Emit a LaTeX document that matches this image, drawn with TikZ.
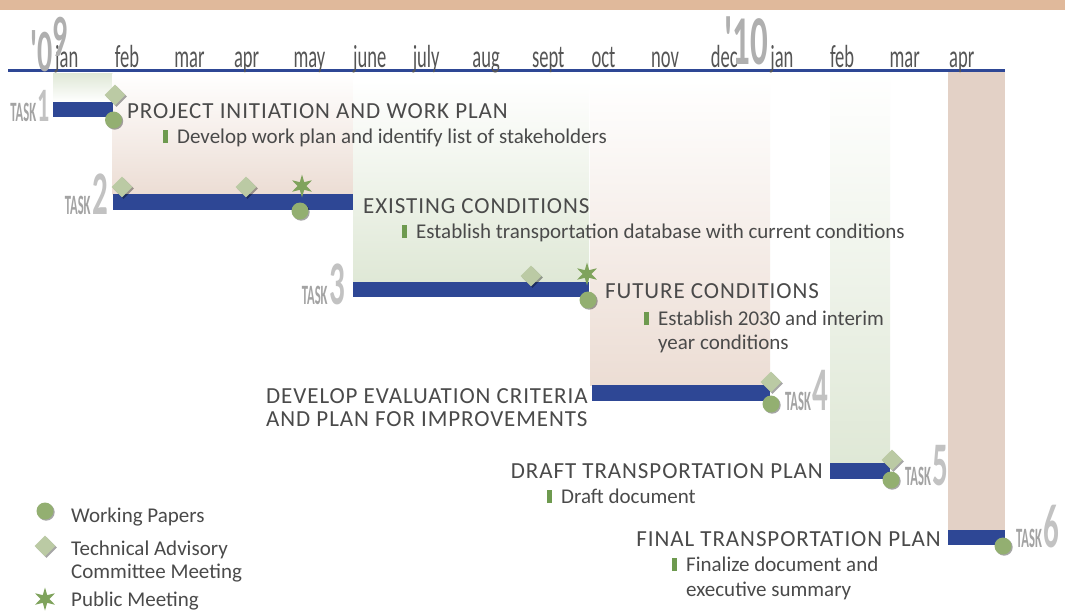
\documentclass[tikz,border=0pt]{standalone}
\usepackage{fontspec}
\setmainfont{Carlito}
\newfontfamily\monthfont[FakeStretch=0.58]{Carlito}
\newfontfamily\narrowfont[FakeStretch=0.5]{Carlito}
\newfontfamily\taskfont[FakeStretch=0.45]{Carlito}
\newfontfamily\headfont[LetterSpace=4]{Carlito}
\usetikzlibrary{shapes.geometric}
\usetikzlibrary{shadows}

\definecolor{topband}{HTML}{E0B99B}
\definecolor{navy}{HTML}{2E4795}
\definecolor{ink}{HTML}{4A4A4A}
\definecolor{monthink}{HTML}{555555}
\definecolor{taskgray}{HTML}{A3A3A3}
\definecolor{digitgray}{HTML}{C2C2C2}
\definecolor{sage}{HTML}{BBCAA4}
\definecolor{leaf}{HTML}{93AF71}
\definecolor{starleaf}{HTML}{7FA35C}
\definecolor{bulletleaf}{HTML}{6E9A4F}
\definecolor{pinkband}{HTML}{ECDDD4}
\definecolor{tanband}{HTML}{E3D1C6}
\definecolor{greenband}{HTML}{DFE8D6}

% bullet hangs left of the text start
\newcommand\bul{\llap{{\color{bulletleaf}\rule{5pt}{13pt}}\hspace{9pt}}}
% TASK n label, digit size optional
\newcommand\tasklbl[2][62]{{\taskfont\bfseries\fontsize{28}{28}\selectfont\color{taskgray}TASK}\hspace{1.5pt}{\narrowfont\bfseries\fontsize{#1}{#1}\selectfont\color{digitgray}#2}}

\begin{document}
\begin{tikzpicture}[x=1pt, y=-1pt,
    head/.style={inner sep=0pt, anchor=base west, text=ink, font=\headfont\fontsize{23}{23}\selectfont},
    body/.style={inner sep=0pt, anchor=base west, text=ink, font=\fontsize{21}{21}\selectfont},
    month/.style={inner sep=0pt, anchor=base west, text=monthink, font=\monthfont\fontsize{32}{32}\selectfont},
    year/.style={inner sep=0pt, anchor=base west, text=digitgray!90!black, font=\narrowfont\bfseries},
    task/.style={inner sep=0pt},
    bar/.style={fill=navy},
    tac/.style={diamond, fill=sage, inner sep=0pt, minimum size=21pt,
        drop shadow={shadow xshift=1.5pt, shadow yshift=-1.5pt, fill=black, opacity=0.35}},
    wp/.style={circle, fill=leaf, inner sep=0pt, minimum size=17pt,
        drop shadow={shadow xshift=1.2pt, shadow yshift=-1.2pt, fill=black, opacity=0.35}},
    pm/.style={star, star points=6, star point ratio=2.6, fill=starleaf, inner sep=0pt, minimum size=23pt}]
    \path[use as bounding box, fill=white] (0,0) rectangle (1065,611);
    \fill[topband] (0,0) rectangle (1065,10);
    % month bands
    \shade[top color=greenband, bottom color=white] (53,73) rectangle (112.6,102);
    \shade[top color=white, bottom color=pinkband] (112.6,73) rectangle (353,194);
    \shade[top color=white, bottom color=greenband] (353,80) rectangle (589,282);
    \shade[top color=white, bottom color=pinkband] (590,80) rectangle (770,385);
    \shade[top color=white, bottom color=greenband] (830,73) rectangle (890,463);
    \fill[tanband] (948,72) rectangle (1005,530);
    % timeline
    \draw[navy, line width=3.5pt] (8,70.5) -- (1005,70.5);
    \foreach \m [count=\i from 0] in {jan,feb,mar,apr,may,june,july,aug,sept,oct,nov,dec,jan,feb,mar,apr}
        \node[month] (m\i) at ({55+59.6*\i},67) {\m};
    \node[year, font=\narrowfont\bfseries\fontsize{60}{60}\selectfont] (y09) at (30,71) {'0\raisebox{15pt}{9}};
    \node[year, font=\narrowfont\bfseries\fontsize{70}{70}\selectfont] (y10) at (724,64) {'10};
    % bars
    \fill[bar] (53,102) rectangle (112.6,117);
    \fill[bar] (112.6,194) rectangle (353,210);
    \fill[bar] (353,282) rectangle (589,297);
    \fill[bar] (592,385) rectangle (770,401);
    \fill[bar] (830,463) rectangle (890,479);
    \fill[bar] (948,530) rectangle (1005,545);
    % markers
    \node[tac] (d1) at (115,95) {};
    \node[wp] (c1) at (113.5,120) {};
    \node[tac] (d2a) at (122,187) {};
    \node[tac] (d2b) at (246,187) {};
    \node[pm] (s2) at (302,186) {};
    \node[wp] (c2) at (300,211) {};
    \node[tac] (d3) at (531,276) {};
    \node[pm] (s3) at (587,274) {};
    \node[wp] (c3) at (588,300) {};
    \node[tac] (d4) at (771,382) {};
    \node[wp] (c4) at (771,404) {};
    \node[tac] (d5) at (892,460) {};
    \node[wp] (c5) at (891,480) {};
    \node[wp] (c6) at (1003,546) {};
    % task labels
    \node[task, anchor=base east] (t1) at (50,121) {\tasklbl[48]{1}};
    \node[task, anchor=base east] (t2) at (108,214) {\tasklbl{2}};
    \node[task, anchor=base east] (t3) at (345,304) {\tasklbl{3}};
    \node[task, anchor=base west] (t4) at (785,410) {\tasklbl{4}};
    \node[task, anchor=base west] (t5) at (905,485) {\tasklbl{5}};
    \node[task, anchor=base west] (t6) at (1016,547) {\tasklbl{6}};
    % task texts
    \node[head] (h1) at (127,118) {PROJECT INITIATION AND WORK PLAN};
    \node[body] (b1) at (177,143) {\bul Develop work plan and identify list of stakeholders};
    \node[head] (h2) at (363,213) {EXISTING CONDITIONS};
    \node[body] (b2) at (416,238) {\bul Establish transportation database with current conditions};
    \node[head] (h3) at (605,298) {FUTURE CONDITIONS};
    \node[body] (b3) at (658,325) {\bul Establish 2030 and interim};
    \node[body] (b3b) at (658,349) {year conditions};
    \node[head] (h4) at (266,403) {DEVELOP EVALUATION CRITERIA};
    \node[head] (h4b) at (266,426) {AND PLAN FOR IMPROVEMENTS};
    \node[head, anchor=base east] (h5) at (823,478) {DRAFT TRANSPORTATION PLAN};
    \node[body] (b5) at (561,503) {\bul Draft document};
    \node[head, anchor=base east] (h6) at (941,546) {FINAL TRANSPORTATION PLAN};
    \node[body] (b6) at (686,571) {\bul Finalize document and};
    \node[body] (b6b) at (686,596) {executive summary};
    % legend
    \node[wp] (lwp) at (45,511) {};
    \node[body] (lwpt) at (71,522) {Working Papers};
    \node[tac] (ltac) at (45,546) {};
    \node[body] (ltact) at (71,555) {Technical Advisory};
    \node[body] (ltact2) at (71,578) {Committee Meeting};
    \node[pm] (lpm) at (45,599) {};
    \node[body] (lpmt) at (71,606) {Public Meeting};
\end{tikzpicture}
\end{document}
